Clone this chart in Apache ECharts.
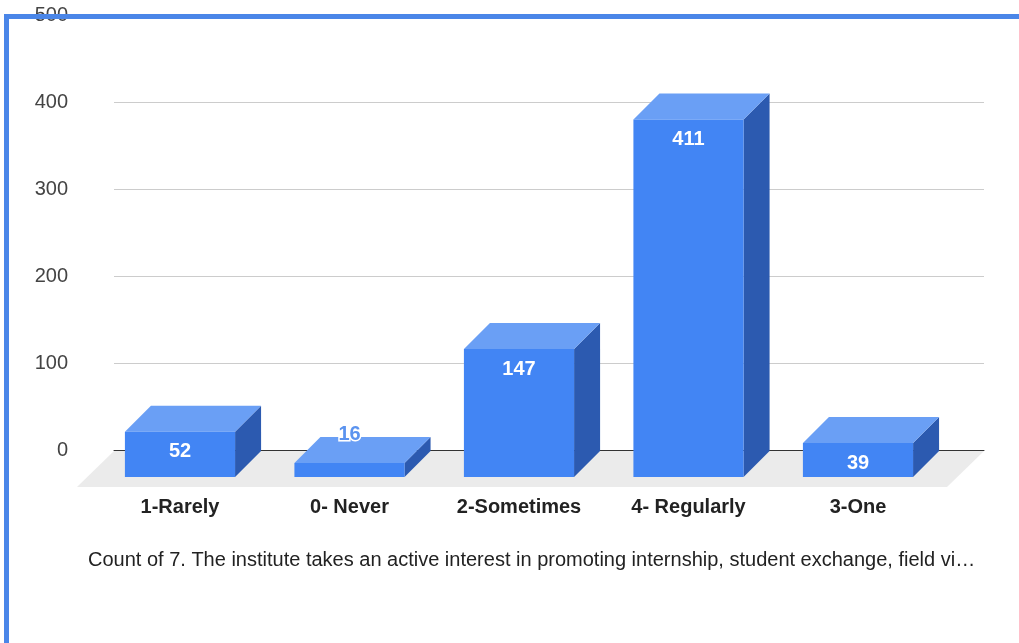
<!DOCTYPE html>
<html>
<head>
<meta charset="utf-8">
<script src="https://cdn.jsdelivr.net/npm/echarts@6/dist/echarts.min.js"></script>
<style>
html,body{margin:0;padding:0;background:#fff;}
#chart{width:1019px;height:643px;}
</style>
</head>
<body>
<div id="chart"></div>
<script>
const categories = ['1-Rarely', '0- Never', '2-Sometimes', '4- Regularly', '3-One'];
const counts = [52, 16, 147, 411, 39];
const yMin = 0, yMax = 500, yStep = 100;
const chartTitle = 'Count of 7. The institute takes an active interest in promoting internship, student exchange, field vi\u2026';

const FRONT = '#4285F4', TOP = '#6a9ff5', SIDE = '#2c5ab0';
const DEPTH = 26, FLOOR_DEPTH = 37;
const FONT = 'Arial, "Liberation Sans", sans-serif';

const chart = echarts.init(document.getElementById('chart'));

function renderBar(params, api) {
  const i = api.value(0), v = api.value(1);
  const base = api.coord([i, 0]);
  const top = api.coord([i, v]);
  const w = api.size([1, 0])[0] * 0.65;
  const x0 = base[0] - w / 2, x1 = x0 + w;
  const yT = top[1], yB = base[1];
  const d = DEPTH;
  const h = yB - yT;
  const inside = h > 25;
  return {
    type: 'group',
    children: [
      { type: 'polygon', shape: { points: [[x1, yT], [x1 + d, yT - d], [x1 + d, yB - d], [x1, yB]] }, style: { fill: SIDE } },
      { type: 'polygon', shape: { points: [[x0, yT], [x1, yT], [x1 + d, yT - d], [x0 + d, yT - d]] }, style: { fill: TOP } },
      { type: 'rect', shape: { x: x0, y: yT, width: w, height: h }, style: { fill: FRONT } },
      { type: 'text', x: base[0], y: inside ? yT + 20 : yT - d - 3,
        style: { text: String(v), fill: inside ? '#ffffff' : '#5b93ef', stroke: inside ? null : '#ffffff', lineWidth: inside ? 0 : 3,
          font: 'bold 20px ' + FONT, textAlign: 'center', textVerticalAlign: 'middle' } }
    ]
  };
}

function renderFloor(params, api) {
  const a = api.coord([0, 0]);
  const b = api.coord([1, 0]);
  const f = FLOOR_DEPTH;
  return {
    type: 'polygon',
    shape: { points: [[a[0], a[1] + 1], [b[0], b[1] + 1], [b[0] - f, b[1] + f], [a[0] - f, a[1] + f]] },
    style: { fill: '#ebebeb' }
  };
}

const option = {
  animation: false,
  backgroundColor: '#ffffff',
  title: {
    text: chartTitle, left: 83, top: 545,
    textStyle: { fontSize: 20, fontWeight: 'normal', color: '#222', fontFamily: FONT }
  },
  grid: [
    { left: 114, right: 35, top: 15, bottom: 193 },
    { left: 95.25, right: 76.25, top: 42, bottom: 166 }
  ],
  xAxis: [
    { type: 'value', gridIndex: 0, min: 0, max: 1, axisLabel: { show: false }, axisTick: { show: false },
      splitLine: { show: false }, axisLine: { show: true, lineStyle: { color: '#333', width: 1 } } },
    { type: 'category', gridIndex: 1, data: categories, axisLine: { show: false }, axisTick: { show: false },
      axisLabel: { margin: 20, fontSize: 20, fontWeight: 'bold', color: '#222', fontFamily: FONT } }
  ],
  yAxis: [
    { type: 'value', gridIndex: 0, min: yMin, max: yMax, interval: yStep,
      axisLine: { show: false }, axisTick: { show: false },
      axisLabel: { margin: 46, fontSize: 20, color: '#444', fontFamily: FONT },
      splitLine: { lineStyle: { color: '#cccccc', width: 1 } } },
    { type: 'value', gridIndex: 1, min: yMin, max: yMax, interval: yStep, show: false, splitLine: { show: false } }
  ],
  series: [
    { type: 'custom', xAxisIndex: 0, yAxisIndex: 0, z: -1, renderItem: renderFloor, data: [[0, 0]], silent: true },
    { type: 'custom', xAxisIndex: 1, yAxisIndex: 1, z: 3, renderItem: renderBar,
      data: counts.map((v, i) => [i, v]) }
  ],
  graphic: [
    { type: 'polyline', z: 100, shape: { points: [[6.5, 643], [6.5, 16.5], [1019, 16.5]] },
      style: { stroke: '#4a86e8', lineWidth: 5, fill: null } }
  ]
};
chart.setOption(option);
</script>
</body>
</html>
